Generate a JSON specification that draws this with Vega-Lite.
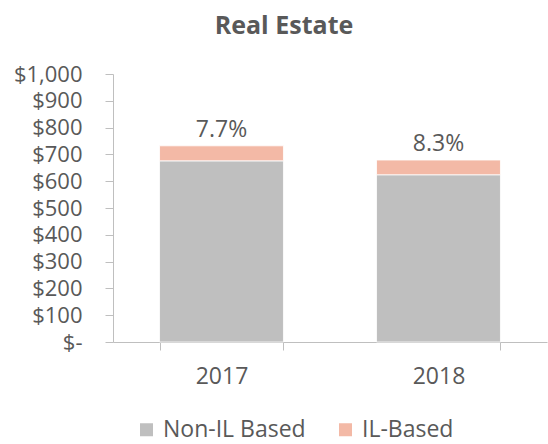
{
  "$schema": "https://vega.github.io/schema/vega-lite/v6.json",
  "width": 434,
  "height": 268,
  "autosize": "none",
  "padding": {"left": 113, "top": 74, "right": 1, "bottom": 102},
  "background": "white",
  "title": {"text": "Real Estate", "fontSize": 25, "font": "Open Sans", "fontWeight": "bold", "color": "#595959", "offset": 24, "dx": -46},
  "config": {
    "view": {"stroke": null},
    "font": "Open Sans",
    "axis": {"labelFont": "Open Sans", "labelColor": "#595959", "labelFontSize": 23, "domainColor": "#bfbfbf", "tickColor": "#bfbfbf", "grid": false, "title": null, "labelOverlap": false}
  },
  "layer": [
    {
      "data": {"values": [
        {"year": "2017", "segment": "Non-IL Based", "value": 676, "order": 1},
        {"year": "2017", "segment": "IL-Based", "value": 56, "order": 2},
        {"year": "2018", "segment": "Non-IL Based", "value": 624, "order": 1},
        {"year": "2018", "segment": "IL-Based", "value": 55, "order": 2}
      ]},
      "mark": {"type": "bar", "stroke": "white", "strokeWidth": 0.8},
      "encoding": {
        "x": {"field": "year", "type": "nominal", "scale": {"paddingInner": 0.429, "paddingOuter": 0.2145}, "axis": {"labelAngle": 0, "tickBand": "extent", "tickSize": 8, "labelPadding": 15}},
        "y": {"field": "value", "type": "quantitative", "stack": "zero", "scale": {"domain": [0, 1000], "nice": false}, "axis": {"values": [0,100,200,300,400,500,600,700,800,900,1000], "labelExpr": "datum.value == 0 ? '$-' : '$' + format(datum.value, ',')", "labelFontSize": 22, "tickSize": 8, "labelPadding": 23, "labelOverlap": false, "labelFlush": false, "labelBound": false}},
        "color": {"field": "segment", "type": "nominal", "scale": {"domain": ["Non-IL Based", "IL-Based"], "range": ["#bfbfbf", "#f3b9a6"]}, "legend": {"title": null, "orient": "none", "direction": "horizontal", "legendX": 22, "legendY": 344, "symbolType": "square", "symbolSize": 169, "symbolStrokeWidth": 0, "symbolOpacity": 1, "labelFontSize": 23, "labelColor": "#595959", "labelFont": "Open Sans", "labelOffset": 5, "columnPadding": 28}},
        "order": {"field": "order", "type": "quantitative"}
      }
    },
    {
      "data": {"values": [
        {"year": "2017", "total": 732, "pct": "7.7%"},
        {"year": "2018", "total": 679, "pct": "8.3%"}
      ]},
      "mark": {"type": "text", "baseline": "alphabetic", "dy": -9, "fontSize": 23, "color": "#595959", "font": "Open Sans"},
      "encoding": {
        "x": {"field": "year", "type": "nominal", "axis": {"labelAngle": 0, "tickBand": "extent", "tickSize": 8, "labelPadding": 15}},
        "y": {"field": "total", "type": "quantitative", "scale": {"domain": [0, 1000], "nice": false}, "axis": {"values": [0,100,200,300,400,500,600,700,800,900,1000], "labelExpr": "datum.value == 0 ? '$-' : '$' + format(datum.value, ',')", "labelFontSize": 22, "tickSize": 8, "labelPadding": 23, "labelOverlap": false, "labelFlush": false, "labelBound": false}},
        "text": {"field": "pct"}
      }
    }
  ]
}
